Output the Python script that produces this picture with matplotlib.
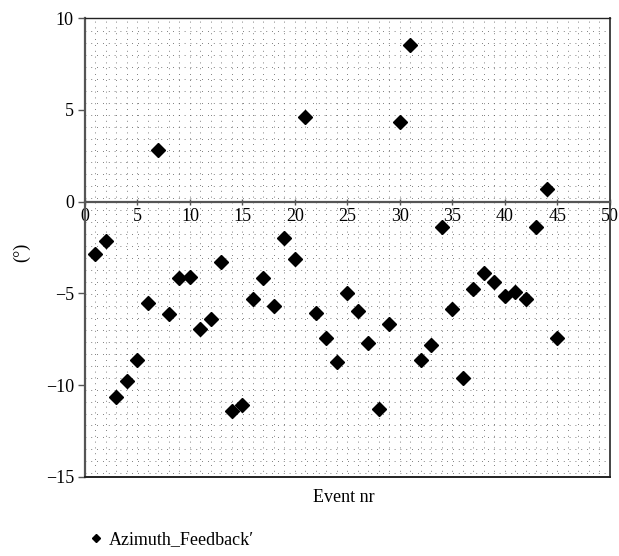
import numpy as np
from matplotlib import pyplot as plt
from matplotlib.lines import Line2D

plt.rcParams['font.family'] = ['Liberation Serif', 'DejaVu Serif']

# event number and azimuth feedback (deg)
events = list(range(1, 46))
azimuth = [-2.88, -2.13, -10.68, -9.79, -8.64, -5.55, 2.81, -6.15, -4.15, -4.1,
           -6.97, -6.41, -3.3, -11.41, -11.11, -5.33, -4.15, -5.68, -1.97, -3.15,
           4.6, -6.06, -7.46, -8.73, -5.0, -5.95, -7.73, -11.28, -6.68, 4.36,
           8.54, -8.64, -7.81, -1.37, -5.88, -9.6, -4.79, -3.88, -4.37, -5.15,
           -4.91, -5.33, -1.37, 0.67, -7.46]
xticks = list(range(0, 51, 5))
yticks = [-15, -10, -5, 0, 5, 10]

fig = plt.figure(figsize=(6.19, 5.56), dpi=100)
ax = fig.add_axes([0.1373, 0.1426, 0.848, 0.8245])

ax.set_xlim(0, 50)
ax.set_ylim(-15, 10)

# dotted background pattern
for gx in range(1, 50):
    ax.axvline(gx, color='#555555', lw=0.6, ls=(0, (1, 6)), zorder=0)
for gy in np.arange(9.31, -15, -0.652):
    ax.axhline(gy, color='#555555', lw=0.6, ls=(0, (1, 6)), zorder=0)

ax.plot(events, azimuth, 'D', color='black', markersize=7, ls='none', zorder=5)

# axes lines
ax.spines['bottom'].set_position(('data', 0))
ax.spines['bottom'].set_color('#555555')
ax.spines['bottom'].set_linewidth(1.6)
ax.spines['left'].set_color('#555555')
ax.spines['left'].set_linewidth(1.6)
ax.spines['top'].set_color('#222222')
ax.spines['top'].set_linewidth(1.0)
ax.spines['right'].set_color('#444444')
ax.spines['right'].set_linewidth(1.4)
ax.axhline(-15, color='#222222', lw=1.4, zorder=6, clip_on=False)

ax.set_xticks(xticks)
ax.set_yticks(yticks)
ax.tick_params(axis='x', direction='inout', length=5, width=1, color='#555555',
               labelsize=13, pad=2)
ax.tick_params(axis='y', direction='out', length=5, width=1, color='#555555',
               labelsize=13, pad=3)

ax.set_ylabel('(°)', fontsize=13)
ax.yaxis.set_label_coords(-0.105, 0.49)
fig.text(0.555, 0.105, 'Event nr', ha='center', va='center', fontsize=13)

h = Line2D([], [], marker='D', color='black', ls='none', markersize=4.5)
fig.legend([h], ['Azimuth_Feedback′'], loc='center left',
           bbox_to_anchor=(0.115, 0.03), frameon=False, fontsize=13,
           handletextpad=0.2, handlelength=1.0)

plt.savefig('out.png', dpi=100)
